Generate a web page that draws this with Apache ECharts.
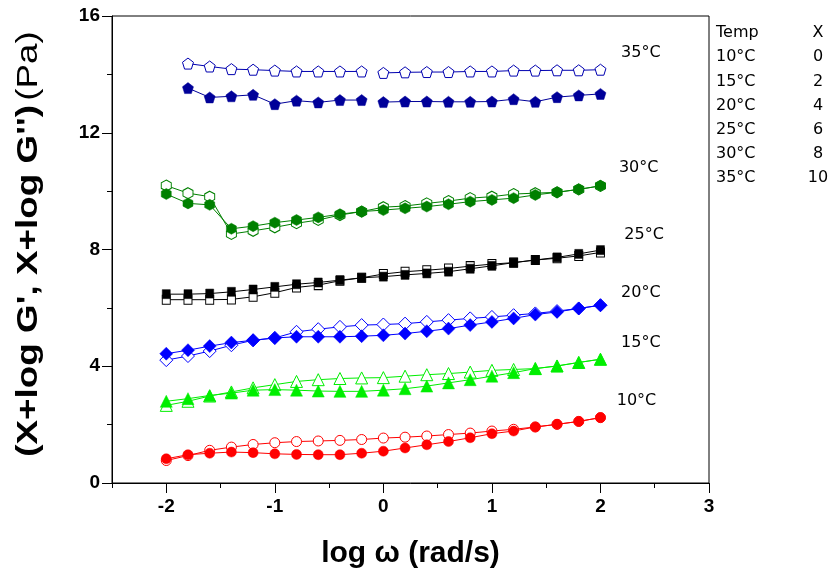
<!DOCTYPE html>
<html><head><meta charset="utf-8">
<script src="https://cdn.jsdelivr.net/npm/echarts@6/dist/echarts.min.js"></script>
<style>html,body{margin:0;padding:0;background:#fff}#c{width:833px;height:575px}</style>
</head><body><div id="c"></div>
<script>
var xVals = [-2,-1.8,-1.6,-1.4,-1.2,-1,-0.8,-0.6,-0.4,-0.2,0,0.2,0.4,0.6,0.8,1,1.2,1.4,1.6,1.8,2];
var x35 = [-1.8,-1.6,-1.4,-1.2,-1,-0.8,-0.6,-0.4,-0.2,0,0.2,0.4,0.6,0.8,1,1.2,1.4,1.6,1.8,2];
var gap35After = -0.2;

var c10F = [0.83,0.97,1.02,1.06,1.04,1.00,0.98,0.97,0.97,1.02,1.09,1.20,1.31,1.42,1.55,1.69,1.78,1.92,2.01,2.11,2.24];
var c10O = [0.77,0.94,1.12,1.23,1.32,1.38,1.42,1.44,1.46,1.49,1.54,1.57,1.61,1.66,1.71,1.78,1.84,1.92,2.01,2.11,2.24];
var c15F = [2.80,2.89,3.00,3.08,3.18,3.20,3.18,3.15,3.14,3.14,3.18,3.23,3.32,3.43,3.54,3.66,3.78,3.92,4.01,4.13,4.24];
var c15O = [2.66,2.80,2.98,3.12,3.26,3.37,3.48,3.54,3.58,3.60,3.61,3.66,3.71,3.75,3.80,3.86,3.89,3.92,4.01,4.13,4.24];
var c20F = [4.43,4.55,4.69,4.81,4.89,4.97,5.01,5.01,5.01,5.03,5.06,5.12,5.20,5.29,5.41,5.52,5.64,5.77,5.86,5.98,6.09];
var c20O = [4.21,4.35,4.52,4.72,4.89,4.97,5.18,5.27,5.35,5.41,5.43,5.46,5.52,5.58,5.64,5.69,5.75,5.81,5.89,5.98,6.09];
var c25F = [6.47,6.47,6.49,6.55,6.63,6.72,6.81,6.87,6.95,7.03,7.07,7.13,7.18,7.24,7.34,7.44,7.55,7.64,7.73,7.85,7.98];
var c25O = [6.28,6.28,6.28,6.29,6.38,6.52,6.70,6.78,6.93,7.03,7.16,7.24,7.29,7.35,7.43,7.50,7.55,7.64,7.70,7.78,7.90];
var c30F = [9.90,9.58,9.53,8.71,8.80,8.92,9.01,9.10,9.21,9.30,9.35,9.41,9.47,9.55,9.64,9.70,9.76,9.87,9.96,10.06,10.18];
var c30O = [10.19,9.93,9.81,8.53,8.64,8.76,8.90,9.01,9.18,9.30,9.45,9.49,9.58,9.66,9.76,9.81,9.90,9.93,9.96,10.06,10.18];
var c35F = [13.53,13.21,13.25,13.30,12.98,13.10,13.04,13.12,13.12,13.05,13.07,13.07,13.06,13.06,13.07,13.15,13.06,13.22,13.28,13.33];
var c35O = [14.37,14.27,14.18,14.16,14.13,14.10,14.10,14.10,14.10,14.05,14.07,14.08,14.08,14.10,14.10,14.13,14.13,14.14,14.14,14.16];

var tempLabels = ['35°C','30°C','25°C','20°C','15°C','10°C'];
var tempLabelX = [2.19,2.17,2.22,2.19,2.19,2.15];
var tempLabelY = [14.74,10.80,8.50,6.52,4.79,2.83];

var legendTemps = ['10°C','15°C','20°C','25°C','30°C','35°C'];
var legendX = ['0','2','4','6','8','10'];

var xTicks = [-2,-1,0,1,2,3];
var xMinorTicks = [-2.5,-1.5,-0.5,0.5,1.5,2.5];
var yTicks = [0,4,8,12,16];
var yMinorTicks = [2,6,10,14];

var xTitle = 'log ω (rad/s)';
var yTitleBold = '(X+log G\', X+log G\'\')';
var yTitleUnit = '(Pa)';

var PENT = 'path://M0,-10 L9.51,-3.09 L5.88,8.09 L-5.88,8.09 L-9.51,-3.09 Z';
var HEX = 'path://M0,-10 L8.66,-5 L8.66,5 L0,10 L-8.66,5 L-8.66,-5 Z';

function pairs(xs, ys, gapAfter) {
  var out = [];
  for (var i = 0; i < xs.length; i++) {
    out.push([xs[i], ys[i]]);
    if (gapAfter !== undefined && xs[i] === gapAfter) out.push(['-', '-']);
  }
  return out;
}
function mk(xs, ys, color, symbol, size, open, gap) {
  return {
    type: 'line', data: pairs(xs, ys, gap), symbol: symbol, symbolSize: size,
    showAllSymbol: true, connectNulls: false, animation: false, z: open ? 2 : 3,
    lineStyle: { color: color, width: 1 },
    itemStyle: open ? { color: '#fff', borderColor: color, borderWidth: 1 } : { color: color, borderColor: color, borderWidth: 0.5 }
  };
}

var series = [
  mk(xVals, c10O, '#ff0000', 'circle', 10, true),
  mk(xVals, c10F, '#ff0000', 'circle', 10, false),
  mk(xVals, c15O, '#00ee00', 'triangle', 12, true),
  mk(xVals, c15F, '#00ee00', 'triangle', 12, false),
  mk(xVals, c20O, '#0000ff', 'diamond', 13, true),
  mk(xVals, c20F, '#0000ff', 'diamond', 13, false),
  mk(xVals, c25O, '#000000', 'rect', [8, 9], true),
  mk(xVals, c25F, '#000000', 'rect', [8, 9], false),
  mk(xVals, c30O, '#008000', HEX, [10, 11], true),
  mk(xVals, c30F, '#008000', HEX, [10, 11], false),
  mk(x35, c35O, '#0000b0', PENT, [11, 11], true, gap35After),
  mk(x35, c35F, '#000099', PENT, [11, 11], false, gap35After)
];
var lbl = [];
for (var i = 0; i < tempLabels.length; i++) lbl.push([tempLabelX[i], tempLabelY[i], tempLabels[i]]);
series.push({
  type: 'scatter', data: lbl, symbolSize: 0, animation: false, silent: true, z: 5,
  itemStyle: { opacity: 1 },
  label: { show: true, position: 'right', distance: 0, formatter: function (p) { return p.data[2]; },
    fontFamily: 'DejaVu Sans', fontSize: 16, color: '#000000', opacity: 1 }
});

var graphics = [];
var rowY0 = 33, rowStep = 24.2;
var lf = '16px "DejaVu Sans"';
graphics.push({ type: 'text', x: 716, y: rowY0, style: { text: 'Temp', font: lf, fill: '#000', verticalAlign: 'middle' } });
graphics.push({ type: 'text', x: 818, y: rowY0, style: { text: 'X', font: lf, fill: '#000', align: 'center', verticalAlign: 'middle' } });
for (var j = 0; j < legendTemps.length; j++) {
  var yy = rowY0 + (j + 1) * rowStep;
  graphics.push({ type: 'text', x: 716, y: yy, style: { text: legendTemps[j], font: lf, fill: '#000', verticalAlign: 'middle' } });
  graphics.push({ type: 'text', x: 818, y: yy, style: { text: legendX[j], font: lf, fill: '#000', align: 'center', verticalAlign: 'middle' } });
}
graphics.push({
  type: 'text', x: 29, y: 244, rotation: Math.PI / 2, scaleX: 1.27,
  style: {
    text: '{b|' + yTitleBold + '} {n|' + yTitleUnit + '}', align: 'center', verticalAlign: 'middle',
    rich: {
      b: { fontFamily: 'Liberation Sans', fontWeight: 'bold', fontSize: 29, fill: '#000' },
      n: { fontFamily: 'Liberation Sans', fontWeight: 'normal', fontSize: 29, fill: '#000' }
    }
  }
});

var axLine = { show: true, onZero: false, lineStyle: { color: '#000', width: 1 } };
var option = {
  backgroundColor: '#fff',
  animation: false,
  grid: { left: 112, right: 124, top: 16, bottom: 92, show: true, borderColor: '#000', borderWidth: 1, backgroundColor: 'transparent' },
  xAxis: [{
    type: 'value', min: -2.5, max: 3, position: 'bottom',
    axisLine: axLine, splitLine: { show: false },
    axisTick: { show: true, length: 10, customValues: xTicks, lineStyle: { color: '#000' } },
    axisLabel: { customValues: xTicks, margin: 14, fontFamily: 'Liberation Sans', fontWeight: 'bold', fontSize: 19, color: '#000' },
    name: xTitle, nameLocation: 'middle', nameGap: 56,
    nameTextStyle: { fontFamily: 'Liberation Sans', fontWeight: 'bold', fontSize: 30, color: '#000' }
  }, {
    type: 'value', min: -2.5, max: 3, position: 'bottom',
    axisLine: { show: false, onZero: false }, splitLine: { show: false },
    axisTick: { show: true, length: 5, customValues: xMinorTicks, lineStyle: { color: '#000' } },
    axisLabel: { show: false }
  }],
  yAxis: [{
    type: 'value', min: 0, max: 16, position: 'left',
    axisLine: axLine, splitLine: { show: false },
    axisTick: { show: true, length: 10, customValues: yTicks, lineStyle: { color: '#000' } },
    axisLabel: { customValues: yTicks, margin: 12, fontFamily: 'Liberation Sans', fontWeight: 'bold', fontSize: 19, color: '#000' }
  }, {
    type: 'value', min: 0, max: 16, position: 'left',
    axisLine: { show: false, onZero: false }, splitLine: { show: false },
    axisTick: { show: true, length: 5, customValues: yMinorTicks, lineStyle: { color: '#000' } },
    axisLabel: { show: false }
  }],
  series: series,
  graphic: graphics
};
var chart = echarts.init(document.getElementById('c'), null, { renderer: 'canvas' });
chart.setOption(option);
</script></body></html>
